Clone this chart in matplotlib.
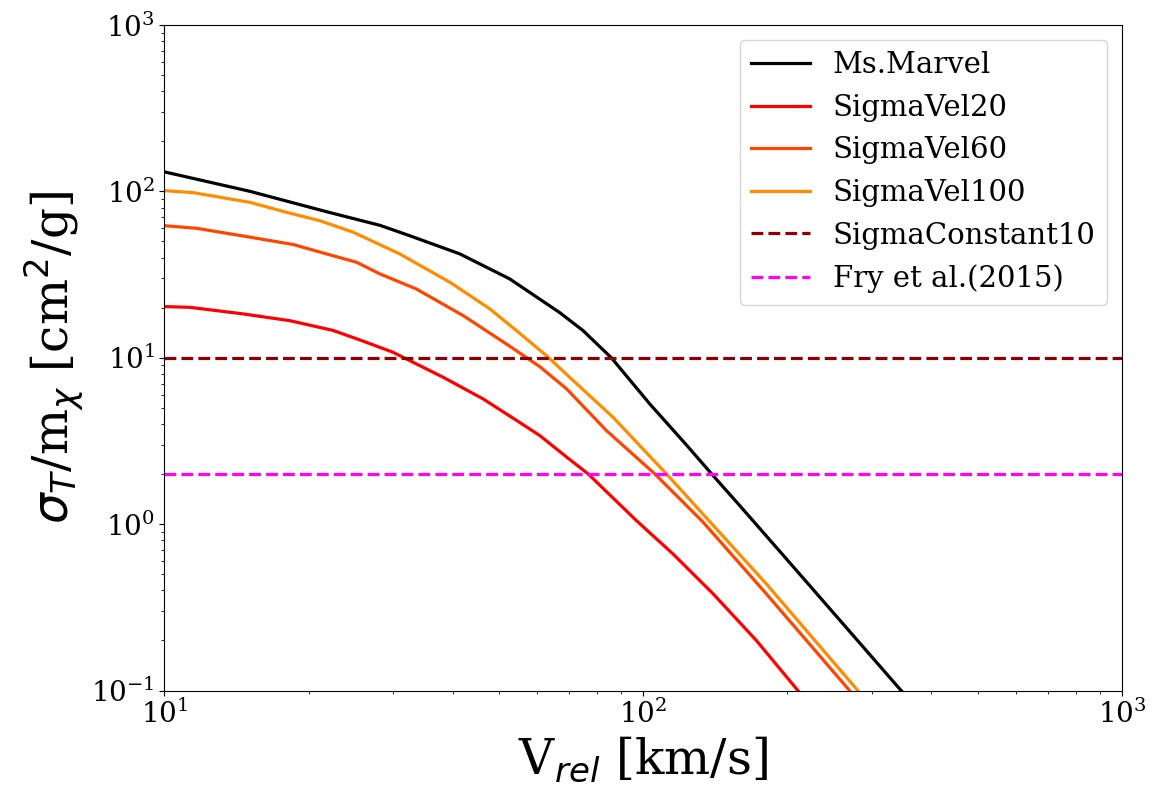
import matplotlib.pyplot as plt

plt.rcParams['font.family'] = 'serif'

# relative velocity [km/s] and cross section per unit mass [cm^2/g]
v_marvel = [10, 15.1, 21.8, 28.2, 32.5, 41.4, 52.6, 66.9, 74.8, 85.8, 103.2, 123, 139.9, 159, 209, 343, 400]
s_marvel = [131, 100, 75.5, 62.5, 54.2, 42.1, 29.8, 18.7, 14.6, 10.0, 5.28, 3.0, 1.96, 1.295, 0.527, 0.1026, 0.062]

v_vel20 = [10, 11.3, 14.6, 18.3, 22.5, 25.6, 30.0, 38.2, 46.3, 54.4, 60.8, 69.2, 76.7, 96.8, 115.3, 139.9, 172.3, 208.9, 240]
s_vel20 = [20.3, 20.1, 18.35, 16.7, 14.6, 12.8, 10.8, 7.64, 5.66, 4.20, 3.41, 2.53, 2.007, 1.05, 0.664, 0.382, 0.200, 0.1026, 0.0634]

v_vel60 = [10, 11.67, 14.85, 18.6, 21.8, 25.2, 28.2, 33.6, 42.1, 51.8, 60.8, 69.2, 83.8, 105.7, 133.3, 180.7, 267.7, 300]
s_vel60 = [62.2, 60.0, 53.5, 47.9, 42.1, 37.5, 31.9, 25.9, 17.9, 12.1, 8.85, 6.5, 3.65, 2.007, 1.03, 0.382, 0.1026, 0.070]

v_vel100 = [10, 11.48, 15.1, 18.0, 21.1, 24.8, 31.0, 39.5, 47.8, 54.3, 62.8, 71.4, 86.5, 111.8, 180.7, 278.6, 300]
s_vel100 = [101, 98.3, 85.9, 74.8, 66.7, 56.8, 42.1, 28.4, 19.7, 14.6, 10.3, 7.3, 4.39, 2.007, 0.4385, 0.1026, 0.080]

sigma_const = 10
sigma_fry = 2

fig = plt.figure(figsize=(11.55, 7.89), dpi=100)
ax = fig.add_axes([0.1424, 0.1248, 0.829, 0.8435])

lw = 2.3
ax.plot(v_marvel, s_marvel, color='black', lw=lw, label='Ms.Marvel')
ax.plot(v_vel20, s_vel20, color='red', lw=lw, label='SigmaVel20')
ax.plot(v_vel60, s_vel60, color='orangered', lw=lw, label='SigmaVel60')
ax.plot(v_vel100, s_vel100, color='darkorange', lw=lw, label='SigmaVel100')
ax.axhline(sigma_const, color='darkred', ls='--', lw=lw, label='SigmaConstant10')
ax.axhline(sigma_fry, color='magenta', ls='--', lw=lw, label='Fry et al.(2015)')

ax.set_xscale('log')
ax.set_yscale('log')
ax.set_xlim(10, 1000)
ax.set_ylim(0.1, 1000)
ax.tick_params(labelsize=20)

ax.set_xlabel(r'V$_{rel}$ [km/s]', fontsize=35)
ax.set_ylabel(r'$\sigma_T$/m$_{\chi}$ [cm$^2$/g]', fontsize=35)
ax.legend(loc='upper right', fontsize=21)

plt.savefig('out.png')
plt.close()
